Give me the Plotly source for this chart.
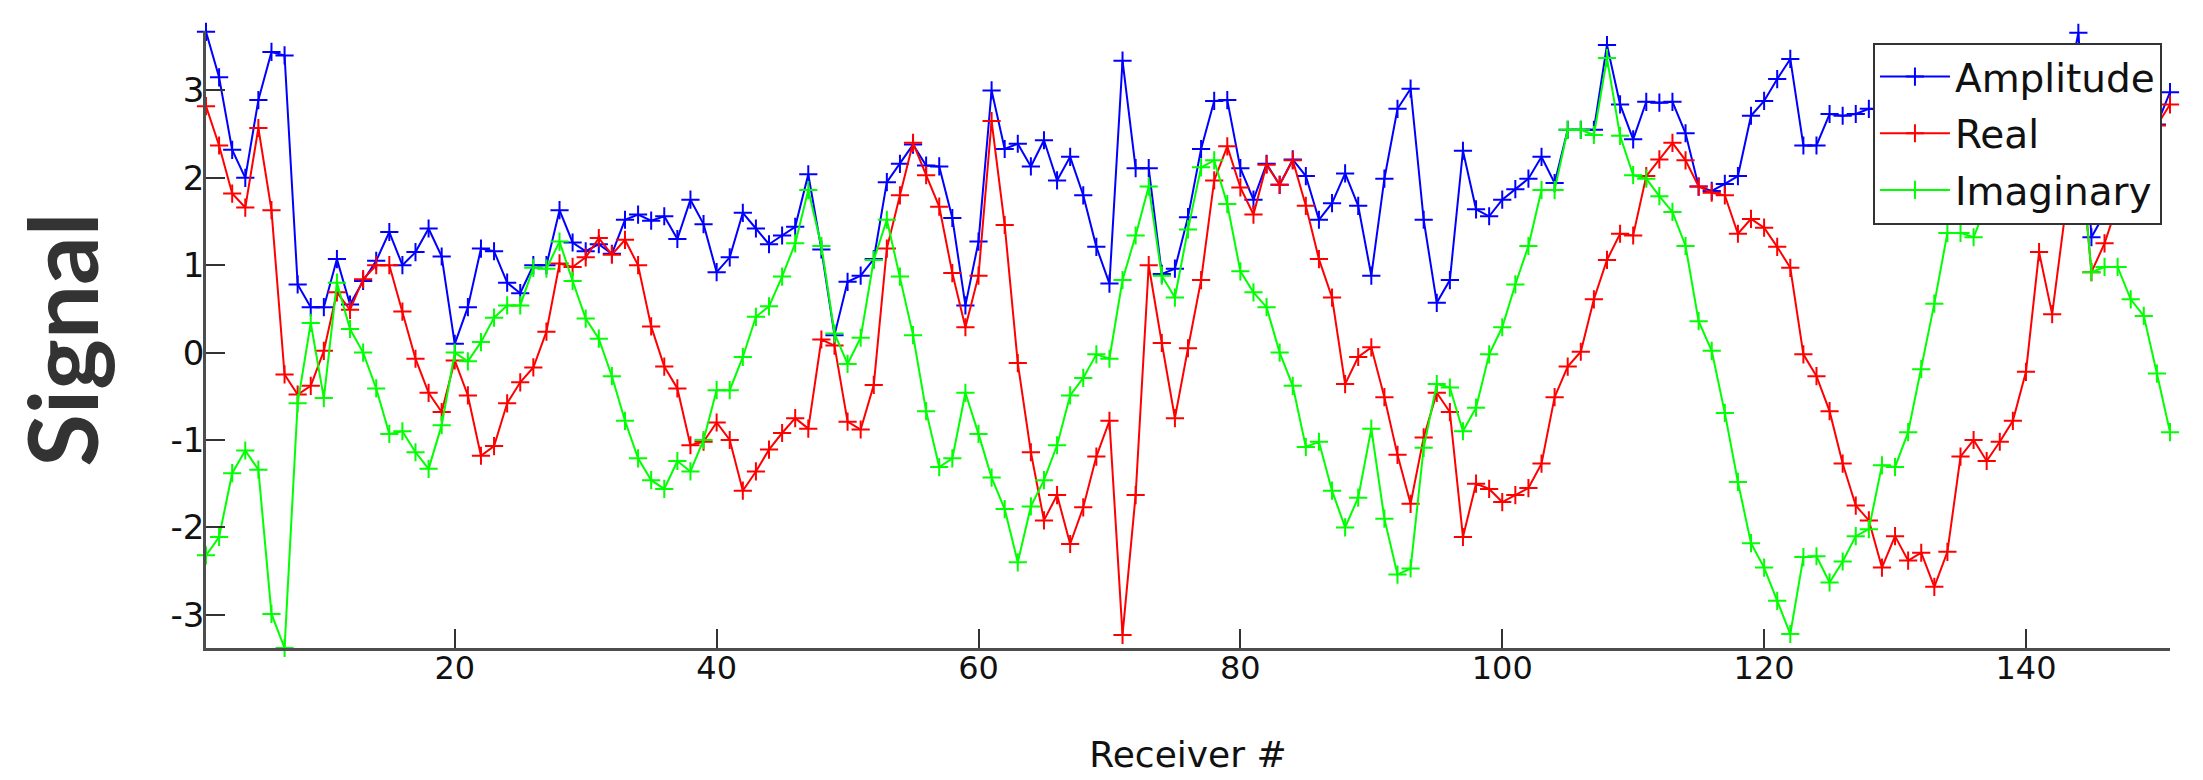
import plotly.graph_objects as go

receiver = list(range(1, 152))

amplitude = [
    3.67, 3.15, 2.32, 2.00, 2.89, 3.44, 3.40, 0.78, 0.52, 0.52,
    1.07, 0.55, 0.82, 1.05, 1.38, 1.00, 1.15, 1.42, 1.10, 0.10,
    0.52, 1.19, 1.16, 0.80, 0.68, 1.00, 1.00, 1.63, 1.26, 1.16,
    1.24, 1.13, 1.52, 1.58, 1.51, 1.56, 1.30, 1.75, 1.47, 0.92,
    1.09, 1.60, 1.42, 1.24, 1.34, 1.44, 2.04, 1.18, 0.20, 0.81,
    0.88, 1.07, 1.95, 2.16, 2.38, 2.14, 2.13, 1.54, 0.54, 1.27,
    3.00, 2.33, 2.39, 2.13, 2.43, 1.97, 2.24, 1.80, 1.21, 0.79,
    3.34, 2.11, 2.11, 0.90, 0.96, 1.55, 2.33, 2.88, 2.89, 2.11,
    1.75, 2.16, 1.92, 2.21, 2.02, 1.52, 1.71, 2.05, 1.68, 0.88,
    1.99, 2.79, 3.02, 1.52, 0.57, 0.83, 2.31, 1.64, 1.56, 1.75,
    1.87, 1.99, 2.24, 1.94, 2.55, 2.55, 2.55, 3.52, 2.84, 2.44,
    2.87, 2.86, 2.87, 2.51, 1.90, 1.85, 1.93, 2.02, 2.71, 2.88,
    3.13, 3.36, 2.37, 2.37, 2.73, 2.71, 2.73, 2.79, 2.78, 2.48,
    2.55, 2.30, 2.74, 2.66, 1.81, 1.66, 2.10, 2.25, 2.33, 2.31,
    2.49, 2.34, 2.88, 3.66, 1.32, 1.59, 1.87, 2.09, 2.34, 2.61,
    2.98,
]

real = [
    2.82, 2.37, 1.82, 1.66, 2.57, 1.63, -0.25, -0.48, -0.38, 0.02,
    0.69, 0.49, 0.84, 1.00, 1.00, 0.47, -0.07, -0.46, -0.68, -0.09,
    -0.49, -1.18, -1.07, -0.58, -0.34, -0.17, 0.24, 1.02, 0.98, 1.09,
    1.31, 1.12, 1.29, 1.00, 0.30, -0.16, -0.41, -1.06, -1.02, -0.80,
    -1.00, -1.58, -1.36, -1.11, -0.92, -0.75, -0.87, 0.15, 0.08, -0.79,
    -0.88, -0.37, 1.19, 1.80, 2.40, 2.03, 1.67, 0.91, 0.29, 0.88,
    2.65, 1.46, -0.12, -1.14, -1.92, -1.63, -2.19, -1.77, -1.19, -0.78,
    -3.23, -1.63, 1.00, 0.11, -0.75, 0.05, 0.83, 1.97, 2.36, 1.89,
    1.58, 2.15, 1.92, 2.20, 1.68, 1.07, 0.63, -0.36, -0.05, 0.06,
    -0.51, -1.17, -1.73, -0.97, -0.46, -0.68, -2.11, -1.50, -1.56, -1.71,
    -1.63, -1.55, -1.27, -0.51, -0.16, 0.01, 0.61, 1.06, 1.36, 1.34,
    2.02, 2.21, 2.40, 2.20, 1.90, 1.83, 1.80, 1.36, 1.53, 1.43,
    1.21, 0.97, -0.02, -0.27, -0.67, -1.27, -1.75, -1.92, -2.46, -2.10,
    -2.38, -2.29, -2.68, -2.28, -1.19, -1.00, -1.24, -1.02, -0.78, -0.22,
    1.15, 0.44, 1.60, 2.60, 0.92, 1.25, 1.70, 2.00, 2.30, 2.60,
    2.84,
]

imaginary = [
    -2.32, -2.11, -1.38, -1.12, -1.34, -2.99, -3.38, -0.58, 0.34, -0.52,
    0.80, 0.27, 0.00, -0.41, -0.93, -0.90, -1.14, -1.33, -0.83, 0.00,
    -0.10, 0.12, 0.40, 0.54, 0.54, 0.97, 0.96, 1.27, 0.82, 0.39,
    0.16, -0.27, -0.78, -1.21, -1.46, -1.56, -1.24, -1.36, -1.00, -0.43,
    -0.43, -0.05, 0.41, 0.53, 0.87, 1.25, 1.86, 1.22, 0.22, -0.13,
    0.17, 1.06, 1.52, 0.87, 0.20, -0.67, -1.31, -1.21, -0.46, -0.93,
    -1.43, -1.79, -2.40, -1.76, -1.46, -1.06, -0.49, -0.29, -0.02, -0.07,
    0.83, 1.34, 1.90, 0.88, 0.63, 1.41, 2.12, 2.20, 1.70, 0.93,
    0.69, 0.52, 0.00, -0.38, -1.08, -1.02, -1.58, -2.00, -1.66, -0.87,
    -1.90, -2.54, -2.47, -1.09, -0.36, -0.40, -0.90, -0.63, -0.02, 0.29,
    0.78, 1.22, 1.86, 1.86, 2.55, 2.55, 2.49, 3.37, 2.48, 2.03,
    1.99, 1.79, 1.61, 1.22, 0.36, 0.02, -0.69, -1.48, -2.18, -2.46,
    -2.84, -3.22, -2.34, -2.33, -2.63, -2.39, -2.10, -2.02, -1.29, -1.31,
    -0.91, -0.19, 0.56, 1.37, 1.37, 1.32, 1.70, 2.00, 2.20, 2.30,
    2.20, 2.30, 2.40, 2.60, 0.92, 0.98, 0.98, 0.61, 0.42, -0.24,
    -0.91,
]

series_names = ["Amplitude", "Real", "Imaginary"]
series_colors = ["#0000ff", "#ff0000", "#00ff00"]

x_tick_vals = [20, 40, 60, 80, 100, 120, 140]
x_tick_text = ["20", "40", "60", "80", "100", "120", "140"]
y_tick_vals = [-3, -2, -1, 0, 1, 2, 3]
y_tick_text = ["-3", "-2", "-1", "0", "1", "2", "3"]

fig = go.Figure()
for name, values, color in zip(series_names, [amplitude, real, imaginary], series_colors):
    fig.add_trace(go.Scatter(
        x=receiver, y=values, name=name, mode="lines+markers",
        line=dict(color=color, width=2),
        marker=dict(symbol="cross-thin", size=13, line=dict(color=color, width=2)),
        cliponaxis=False, legendgroup=name,
    ))

txt_family = "DejaVu Sans, Liberation Sans, Arial"

fig.update_layout(
    width=2203, height=780,
    margin=dict(l=206, r=33, t=31, b=128),
    paper_bgcolor="white", plot_bgcolor="white",
    showlegend=True,
    legend=dict(
        x=0.9959, y=0.981, xanchor="right", yanchor="top",
        bgcolor="white", bordercolor="#333333", borderwidth=2,
        font=dict(family=txt_family, size=39, color="#111111"),
        itemwidth=70, tracegroupgap=3,
    ),
    xaxis=dict(
        range=[1, 151], tickvals=x_tick_vals, ticktext=x_tick_text,
        showgrid=False, zeroline=False, showline=True, linecolor="#4d4d4d", linewidth=2.5,
        ticks="inside", ticklen=19, tickwidth=2, tickcolor="#333333",
        tickfont=dict(family=txt_family, size=32, color="#111111"),
        ticklabelstandoff=-10,
        title=dict(text="Receiver #", font=dict(family=txt_family, size=36, color="#111111"), standoff=56),
    ),
    yaxis=dict(
        range=[-3.38, 3.68], tickvals=y_tick_vals, ticktext=y_tick_text,
        showgrid=False, zeroline=False, showline=True, linecolor="#4d4d4d", linewidth=2.5,
        ticks="inside", ticklen=19, tickwidth=2, tickcolor="#333333",
        tickfont=dict(family=txt_family, size=34, color="#111111"),
        ticklabelstandoff=-8,
        title=dict(text="Signal", font=dict(family="Lato, DejaVu Sans", size=96, color="#333333", weight="bold"), standoff=40),
    ),
)

fig.write_html("out.html")
